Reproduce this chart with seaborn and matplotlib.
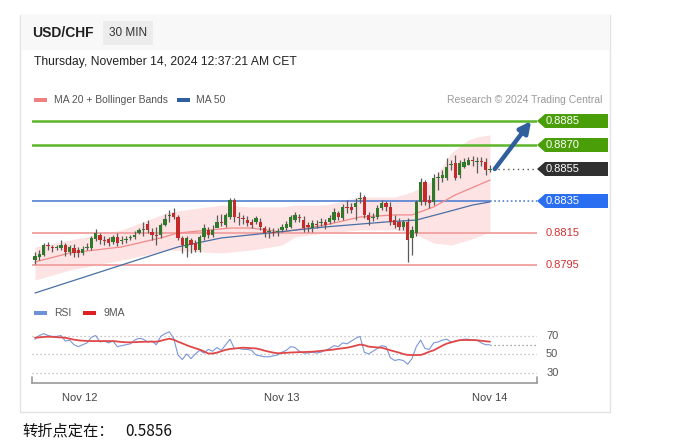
import numpy as np
import pandas as pd
import matplotlib
matplotlib.use("Agg")
import matplotlib.pyplot as plt
import matplotlib.transforms as mtransforms
from matplotlib.patches import Rectangle, Polygon
import seaborn as sns

# ---------------- data ----------------
opens = [0.87981, 0.88000, 0.88013, 0.88075, 0.88063, 0.88056, 0.88056, 0.88075, 0.88031, 0.88056,
         0.88044, 0.88025, 0.88056, 0.88056, 0.88113, 0.88138, 0.88106, 0.88113, 0.88094, 0.88125,
         0.88100, 0.88106, 0.88119, 0.88125, 0.88150, 0.88169, 0.88206, 0.88156, 0.88138, 0.88138,
         0.88200, 0.88256, 0.88275, 0.88250, 0.88119, 0.88056, 0.88106, 0.88088, 0.88044, 0.88125,
         0.88169, 0.88138, 0.88181, 0.88219, 0.88200, 0.88250, 0.88356, 0.88250, 0.88244, 0.88231,
         0.88219, 0.88219, 0.88219, 0.88181, 0.88156, 0.88156, 0.88156, 0.88169, 0.88181, 0.88188,
         0.88231, 0.88250, 0.88231, 0.88200, 0.88181, 0.88206, 0.88213, 0.88219, 0.88219, 0.88231,
         0.88275, 0.88244, 0.88313, 0.88313, 0.88313, 0.88363, 0.88375, 0.88263, 0.88244, 0.88250,
         0.88306, 0.88338, 0.88313, 0.88231, 0.88219, 0.88188, 0.88219, 0.88119, 0.88150, 0.88344,
         0.88469, 0.88356, 0.88344, 0.88494, 0.88494, 0.88494, 0.88575, 0.88588, 0.88513, 0.88563,
         0.88575, 0.88606, 0.88594, 0.88600, 0.88594, 0.88544]
closes = [0.88006, 0.88019, 0.88075, 0.88069, 0.88056, 0.88063, 0.88075, 0.88031, 0.88063, 0.88025,
          0.88025, 0.88050, 0.88063, 0.88119, 0.88150, 0.88106, 0.88100, 0.88088, 0.88125, 0.88088,
          0.88106, 0.88113, 0.88125, 0.88138, 0.88169, 0.88175, 0.88169, 0.88138, 0.88131, 0.88200,
          0.88238, 0.88263, 0.88250, 0.88119, 0.88075, 0.88119, 0.88075, 0.88044, 0.88125, 0.88181,
          0.88138, 0.88169, 0.88219, 0.88213, 0.88263, 0.88356, 0.88250, 0.88244, 0.88238, 0.88213,
          0.88200, 0.88244, 0.88188, 0.88150, 0.88163, 0.88150, 0.88163, 0.88188, 0.88206, 0.88250,
          0.88263, 0.88244, 0.88181, 0.88188, 0.88213, 0.88200, 0.88219, 0.88200, 0.88244, 0.88281,
          0.88250, 0.88313, 0.88306, 0.88294, 0.88338, 0.88369, 0.88263, 0.88231, 0.88250, 0.88306,
          0.88338, 0.88313, 0.88219, 0.88200, 0.88188, 0.88219, 0.88106, 0.88169, 0.88344, 0.88469,
          0.88344, 0.88338, 0.88494, 0.88500, 0.88513, 0.88563, 0.88581, 0.88494, 0.88588, 0.88594,
          0.88606, 0.88600, 0.88600, 0.88594, 0.88544, 0.88550]
highs = [0.88031, 0.88044, 0.88088, 0.88094, 0.88075, 0.88075, 0.88106, 0.88088, 0.88075, 0.88081,
         0.88063, 0.88069, 0.88088, 0.88131, 0.88175, 0.88150, 0.88131, 0.88125, 0.88138, 0.88150,
         0.88131, 0.88131, 0.88138, 0.88163, 0.88181, 0.88219, 0.88231, 0.88181, 0.88188, 0.88213,
         0.88269, 0.88294, 0.88306, 0.88263, 0.88131, 0.88131, 0.88119, 0.88106, 0.88138, 0.88206,
         0.88188, 0.88200, 0.88263, 0.88269, 0.88275, 0.88369, 0.88369, 0.88281, 0.88263, 0.88256,
         0.88238, 0.88256, 0.88244, 0.88194, 0.88188, 0.88181, 0.88181, 0.88206, 0.88225, 0.88263,
         0.88281, 0.88269, 0.88256, 0.88219, 0.88231, 0.88231, 0.88244, 0.88238, 0.88263, 0.88306,
         0.88288, 0.88331, 0.88356, 0.88338, 0.88369, 0.88406, 0.88388, 0.88281, 0.88275, 0.88325,
         0.88356, 0.88350, 0.88344, 0.88263, 0.88244, 0.88231, 0.88244, 0.88194, 0.88356, 0.88494,
         0.88481, 0.88388, 0.88519, 0.88531, 0.88544, 0.88619, 0.88606, 0.88638, 0.88606, 0.88619,
         0.88625, 0.88631, 0.88625, 0.88625, 0.88619, 0.88575]
lows = [0.87956, 0.87981, 0.88006, 0.88044, 0.88031, 0.88044, 0.88044, 0.88006, 0.88013, 0.88000,
        0.88000, 0.88013, 0.88044, 0.88044, 0.88100, 0.88081, 0.88075, 0.88069, 0.88081, 0.88069,
        0.88081, 0.88088, 0.88106, 0.88113, 0.88144, 0.88131, 0.88150, 0.88106, 0.88075, 0.88119,
        0.88194, 0.88219, 0.88238, 0.88106, 0.88025, 0.88000, 0.88025, 0.88031, 0.88031, 0.88106,
        0.88119, 0.88125, 0.88200, 0.88194, 0.88188, 0.88238, 0.88219, 0.88200, 0.88206, 0.88194,
        0.88181, 0.88206, 0.88169, 0.88125, 0.88119, 0.88131, 0.88131, 0.88156, 0.88169, 0.88181,
        0.88219, 0.88219, 0.88156, 0.88156, 0.88156, 0.88181, 0.88194, 0.88175, 0.88206, 0.88219,
        0.88231, 0.88231, 0.88275, 0.88275, 0.88231, 0.88338, 0.88244, 0.88200, 0.88225, 0.88238,
        0.88294, 0.88288, 0.88200, 0.88181, 0.88169, 0.88169, 0.87969, 0.88013, 0.88131, 0.88325,
        0.88325, 0.88306, 0.88325, 0.88419, 0.88469, 0.88481, 0.88544, 0.88481, 0.88494, 0.88556,
        0.88575, 0.88569, 0.88525, 0.88569, 0.88513, 0.88531]

# moving averages / bands read at selected candle indices
ma20_idx = [0, 8, 20, 29, 33, 45, 50, 57, 67, 75, 83, 87, 92, 97, 105]
ma20_val = [0.87969, 0.88025, 0.88063, 0.88119, 0.88150, 0.88181, 0.88181, 0.88156, 0.88200,
            0.88250, 0.88263, 0.88263, 0.88313, 0.88388, 0.88481]
ma50_idx = [0, 20, 33, 43, 56, 67, 81, 88, 95, 101, 105]
ma50_val = [0.87775, 0.87950, 0.88063, 0.88119, 0.88156, 0.88188, 0.88219, 0.88231, 0.88281,
            0.88325, 0.88344]
bb_idx = [0, 8, 20, 31, 43, 50, 57, 60, 67, 75, 83, 87, 92, 96, 100, 102, 105]
bb_upper = [0.88063, 0.88106, 0.88169, 0.88281, 0.88325, 0.88313, 0.88313, 0.88325, 0.88325,
            0.88375, 0.88375, 0.88406, 0.88481, 0.88650, 0.88731, 0.88750, 0.88763]
bb_lower = [0.87856, 0.87919, 0.87981, 0.88044, 0.88025, 0.88044, 0.88075, 0.88125, 0.88150,
            0.88169, 0.88169, 0.88150, 0.88088, 0.88075, 0.88106, 0.88125, 0.88156]

rsi = [66, 70, 72, 70, 69, 69, 70, 64, 65, 60, 58, 60, 62, 68, 70, 63, 64, 62, 64, 58,
       59, 60, 61, 65, 67, 66, 63, 64, 60, 69, 72, 74, 67, 49, 44, 50, 45, 50, 54, 51,
       55, 53, 57, 54, 60, 66, 56, 56, 55, 55, 54, 49, 48, 47, 47, 48, 49, 52, 54, 58,
       57, 53, 51, 51, 52, 51, 52, 54, 56, 59, 58, 62, 61, 64, 67, 69, 52, 50, 53, 56,
       59, 58, 46, 43, 44, 43, 39, 45, 58, 65, 56, 55, 62, 63, 65, 66, 63, 64, 65, 66,
       66, 65, 65, 62, 60, 60]
rsi_ma9 = [67.6, 68.0, 68.4, 68.7, 68.5, 68.2, 67.9, 67.6, 66.5, 65.5, 64.8, 64.4, 64.1, 64.0,
           64.0, 64.0, 64.0, 64.0, 64.0, 63.5, 63.0, 62.7, 62.6, 62.8, 63.0, 63.2, 63.3, 63.3,
           63.3, 64.2, 65.5, 66.5, 65.5, 63.3, 61.5, 59.5, 57.8, 56.2, 54.8, 52.8, 50.5, 50.5,
           51.5, 53.0, 54.5, 55.4, 55.9, 56.4, 56.8, 56.6, 56.3, 56.0, 55.0, 53.6, 52.5, 51.5,
           50.8, 51.0, 51.3, 51.6, 51.8, 52.0, 52.1, 52.3, 52.5, 52.9, 53.4, 53.9, 54.3, 54.9,
           55.6, 56.2, 56.8, 57.8, 59.0, 60.2, 59.5, 58.0, 57.5, 57.1, 56.8, 55.5, 54.0, 52.8,
           51.5, 50.0, 49.0, 48.9, 48.9, 48.9, 50.5, 52.5, 54.0, 56.5, 59.0, 61.2, 62.5, 63.8,
           65.0, 65.1, 65.1, 65.1, 64.8, 64.3, 63.8, 63.3]

resist_levels = [0.8885, 0.8870]
current_price = 0.8855
pivot_level = 0.8835
support_levels = [0.8815, 0.8795]
rsi_levels = [70, 50, 30]
date_tick_idx = [10.4, 57, 105]
date_tick_labels = ["Nov 12", "Nov 13", "Nov 14"]

# ---------------- style ----------------
sns.set_style("white")
plt.rcParams['font.family'] = ['Liberation Sans', 'Noto Sans CJK SC', 'DejaVu Sans']

W, H = 682, 445
fig = plt.figure(figsize=(W / 100, H / 100), dpi=100)
fig.patch.set_facecolor('white')


def fx(x):
    return x / W


def fy(y):
    return 1 - y / H


def rect(x0, y0, x1, y1, **kw):
    r = Rectangle((fx(x0), fy(y1)), fx(x1) - fx(x0), fy(y0) - fy(y1),
                  transform=fig.transFigure, **kw)
    fig.add_artist(r)
    return r


# card and header
rect(20, 15, 610, 412, fill=False, edgecolor='#e2e2e2', lw=1)
rect(20.5, 15.5, 609.5, 50, facecolor='#f8f8f8', edgecolor='none')
rect(103, 21, 153, 45, facecolor='#ececec', edgecolor='none')
fig.text(fx(32), fy(33), "USD/CHF", fontsize=10, fontweight='bold', color='#222222', va='center')
fig.text(fx(128), fy(33), "30 MIN", fontsize=8.5, color='#333333', va='center', ha='center')
fig.text(fx(34), fy(62), "Thursday, November 14, 2024 12:37:21 AM CET", fontsize=8.7,
         color='#222222', va='center')

# legend
rect(34, 98, 47, 102, facecolor='#f08080', edgecolor='none')
fig.text(fx(54), fy(100), "MA 20 + Bollinger Bands", fontsize=7.5, color='#555555', va='center')
rect(177, 98, 190, 102, facecolor='#2e5f9e', edgecolor='none')
fig.text(fx(196), fy(100), "MA 50", fontsize=7.5, color='#555555', va='center')
fig.text(fx(602), fy(100), "Research \u00a9 2024 Trading Central", fontsize=7.5, color='#999999',
         va='center', ha='right')

# ---------------- price panel ----------------
ax = fig.add_axes([fx(32), fy(297), fx(537) - fx(32), fy(112) - fy(297)])
ax.axis('off')
n = len(closes)
x = np.arange(n)
xl = (-0.69, 115.85)
ax.set_xlim(*xl)
ax.set_ylim(0.8775, 0.889063)

ax.fill_between(bb_idx, bb_lower, bb_upper, color='#fde3e3', lw=0, zorder=1)

for lv in support_levels:
    ax.axhline(lv, color='#f2a5a5', lw=1.4, zorder=2)
for lv in resist_levels:
    ax.axhline(lv, color='#5cb52a', lw=1.8, zorder=2)
ax.hlines(pivot_level, xl[0], n - 1, color='#5080d0', lw=1.2, zorder=2)
ax.hlines(pivot_level, n - 1, xl[1], color='#5080d0', lw=1.2, linestyles=[(0, (1, 1.5))], zorder=2)
ax.hlines(current_price, n - 0.3, xl[1], color='#555555', lw=1, linestyles=[(0, (1, 2.5))], zorder=2)

ma_df20 = pd.DataFrame({'i': ma20_idx, 'v': ma20_val})
ma_df50 = pd.DataFrame({'i': ma50_idx, 'v': ma50_val})
sns.lineplot(data=ma_df20, x='i', y='v', ax=ax, color='#f08a8a', lw=0.9, zorder=3)
sns.lineplot(data=ma_df50, x='i', y='v', ax=ax, color='#4a6fa5', lw=0.9, zorder=3)

o = np.array(opens)
c = np.array(closes)
up = c >= o
ax.vlines(x, lows, highs, color='#5a5a5a', lw=0.9, zorder=4)
body_h = np.maximum(np.abs(c - o), 0.00003)
body_b = np.minimum(o, c)
ax.bar(x[up], body_h[up], bottom=body_b[up], width=0.75, color='#2f7a2a', zorder=5, lw=0)
ax.bar(x[~up], body_h[~up], bottom=body_b[~up], width=0.75, color='#c42a2a', zorder=5, lw=0)

ax.annotate('', xy=(114.5, resist_levels[0]), xytext=(n + 0.1, current_price),
            arrowprops=dict(arrowstyle='-|>', color='#2f5f9c', lw=3.2, mutation_scale=17,
                            shrinkA=0, shrinkB=0), zorder=6)

inv = fig.transFigure.inverted()


def tag(level, color, text):
    yd = ax.transData.transform((0, level))[1]
    x0 = fig.transFigure.transform((fx(537), 0))[0]
    pts = [(x0, yd), (x0 + 8, yd + 7), (x0 + 71, yd + 7), (x0 + 71, yd - 7), (x0 + 8, yd - 7)]
    fpts = inv.transform(pts)
    fig.add_artist(Polygon(fpts, closed=True, transform=fig.transFigure, facecolor=color,
                           edgecolor='none'))
    fy_c = inv.transform((0, yd))[1]
    fig.text(fx(546), fy_c, text, color='white', fontsize=8, va='center')


for lv in resist_levels:
    tag(lv, '#4a9e08', f"{lv:.4f}")
tag(current_price, '#303030', f"{current_price:.4f}")
tag(pivot_level, '#2a6ef2', f"{pivot_level:.4f}")
lbl_tr = mtransforms.blended_transform_factory(ax.transAxes, ax.transData)
for lv in support_levels:
    ax.text(1.018, lv, f"{lv:.4f}", transform=lbl_tr, color='#d03030', fontsize=8, va='center')

# ---------------- RSI panel ----------------
rect(34, 311, 47, 315, facecolor='#6f8fd8', edgecolor='none')
fig.text(fx(54), fy(313), "RSI", fontsize=7.5, color='#555555', va='center')
rect(83, 311, 96, 315, facecolor='#e02020', edgecolor='none')
fig.text(fx(103), fy(313), "9MA", fontsize=7.5, color='#555555', va='center')

ax2 = fig.add_axes([fx(32), fy(383), fx(537) - fx(32), fy(322) - fy(383)])
ax2.set_xlim(*xl)
ax2.set_ylim(18.65, 84.6)
for s in ['top', 'left', 'right']:
    ax2.spines[s].set_visible(False)
ax2.spines['bottom'].set_color('#9a9a9a')
ax2.spines['bottom'].set_linewidth(1.2)
ax2.plot([0, 0], [0, 0.1], transform=ax2.transAxes, color='#9a9a9a', lw=1.2, clip_on=False)
ax2.plot([1, 1], [0, 0.1], transform=ax2.transAxes, color='#9a9a9a', lw=1.2, clip_on=False)
for lv in rsi_levels:
    ax2.axhline(lv, color='#b5b5b5', lw=0.9, ls=(0, (1, 2.2)))
rsi_tr = mtransforms.blended_transform_factory(ax2.transAxes, ax2.transData)
for lv in rsi_levels:
    ax2.text(1.018, lv, str(lv), transform=rsi_tr, fontsize=8, color='#555555', va='center')

rsi_df = pd.DataFrame({'i': x, 'rsi': rsi, 'ma': rsi_ma9})
sns.lineplot(data=rsi_df, x='i', y='rsi', ax=ax2, color='#7b96d8', lw=0.8)
sns.lineplot(data=rsi_df, x='i', y='ma', ax=ax2, color='#e04848', lw=1.3)
ax2.hlines(rsi[-1], n - 1, 116, color='#888888', lw=0.9, linestyles=[(0, (1, 2.2))], clip_on=False)

ax2.set_yticks([])
ax2.set_xticks(date_tick_idx)
ax2.set_xticklabels(date_tick_labels, fontsize=8, color='#444444')
ax2.tick_params(axis='x', length=0, pad=7)
ax2.set_xlabel('')
ax2.set_ylabel('')
ax.set_xlabel('')
ax.set_ylabel('')
ax2.set_facecolor('none')

fig.text(fx(22), fy(431), "转折点定在：", fontsize=11, color='#111111', va='center',
         family=['Noto Sans CJK SC', 'DejaVu Sans'])
fig.text(fx(125), fy(431), "0.5856", fontsize=11, color='#111111', va='center',
         family=['Noto Sans CJK SC', 'DejaVu Sans'])

fig.savefig('out.png', dpi=100, facecolor='white')
